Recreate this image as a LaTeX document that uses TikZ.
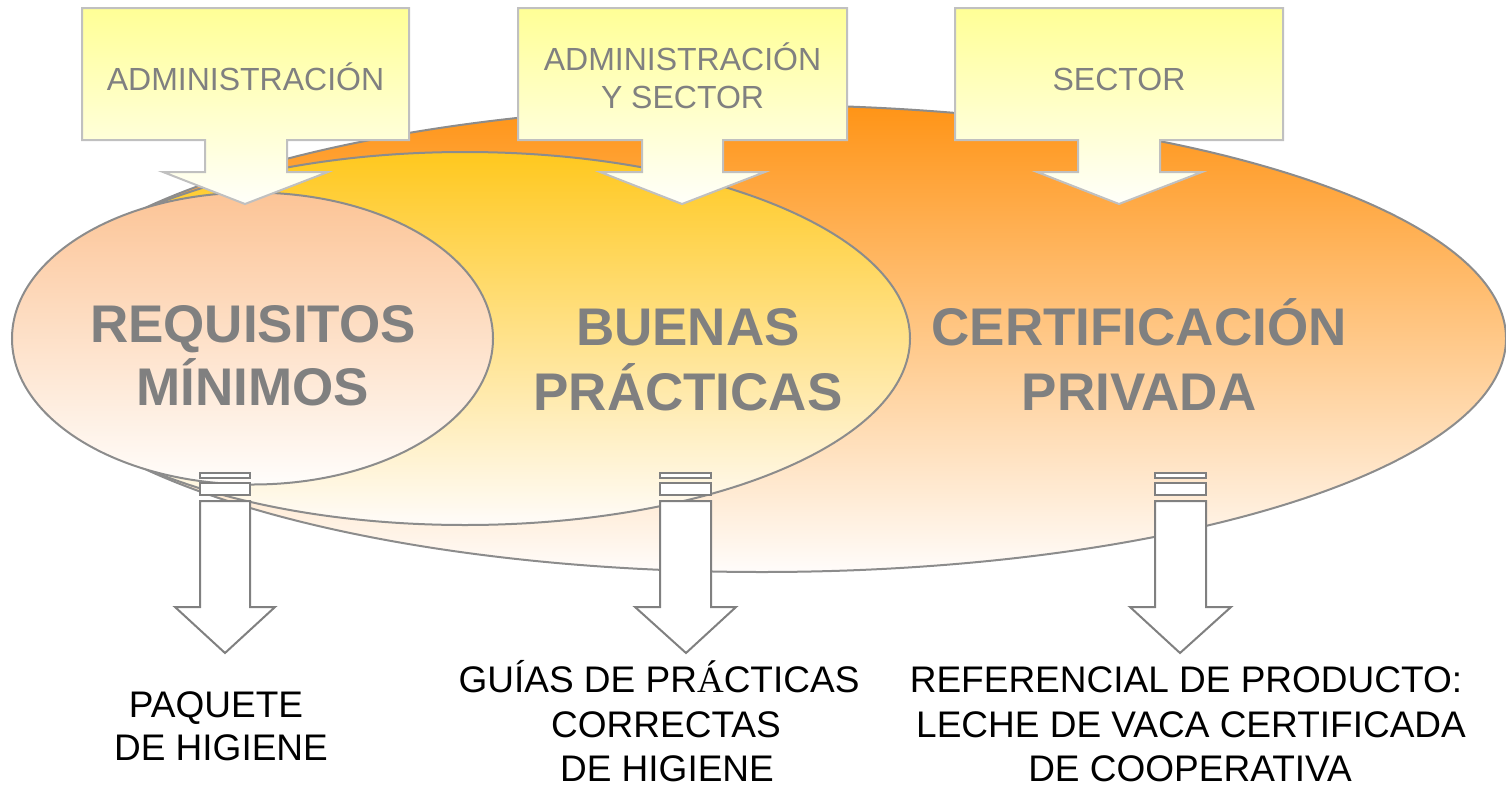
\documentclass[tikz,border=0pt]{standalone}
\usepackage{fontspec}
\setmainfont{Liberation Sans}
\newfontfamily\serifA{Liberation Serif}
\definecolor{ellline}{RGB}{140,140,140}
\definecolor{bigtop}{RGB}{255,148,22}
\definecolor{bigbot}{RGB}{255,252,250}
\definecolor{midtop}{RGB}{255,200,30}
\definecolor{midbot}{RGB}{255,252,249}
\definecolor{smltop}{RGB}{252,196,150}
\definecolor{smlbot}{RGB}{255,253,251}
\definecolor{caltop}{RGB}{255,255,150}
\definecolor{calbot}{RGB}{255,255,250}
\definecolor{calline}{RGB}{192,192,192}
\definecolor{txtgray}{RGB}{128,128,128}
\definecolor{arrline}{RGB}{128,128,128}
\tikzset{
  ellborder/.style={draw=ellline, line width=2pt},
  callout/.style={draw=calline, line width=2pt, line join=miter, top color=caltop, bottom color=calbot},
  downarrow/.style={draw=arrline, line width=2pt, fill=white, line join=miter},
  toptxt/.style={anchor=base, inner sep=0pt, text=txtgray, font=\fontsize{32}{38}\selectfont},
  bigtxt/.style={anchor=base, inner sep=0pt, text=txtgray, font=\fontsize{53}{63}\selectfont\bfseries},
  bottxt/.style={anchor=base, inner sep=0pt, text=black, font=\fontsize{37}{45}\selectfont}
}
\begin{document}
\begin{tikzpicture}[x=1pt,y=-1pt]
\useasboundingbox (0,0) rectangle (1506,787);
% ellipses
\draw[ellborder, top color=bigtop, bottom color=bigbot] (762,338.5) ellipse [x radius=744, y radius=233.5];
\draw[ellborder, top color=midtop, bottom color=midbot] (465,338.5) ellipse [x radius=445, y radius=186.5];
\draw[ellborder, top color=smltop, bottom color=smlbot] (252.5,338.5) ellipse [x radius=240.5, y radius=146];
% big texts
\node[bigtxt] (req1) at (253,342) {REQUISITOS};
\node[bigtxt] (req2) at (253,405) {MÍNIMOS};
\node[bigtxt] (bp1) at (688,345) {BUENAS};
\node[bigtxt] (bp2) at (688,410) {PRÁCTICAS};
\node[bigtxt] (cp1) at (1139,345) {CERTIFICACIÓN};
\node[bigtxt] (cp2) at (1139,410) {PRIVADA};
% top callouts
\path[callout] (82,8) -- (409,8) -- (409,140) -- (287,140) -- (287,172) -- (328,172) -- (245,204) -- (163,172) -- (205,172) -- (205,140) -- (82,140) -- cycle;
\path[callout] (518,8) -- (847,8) -- (847,140) -- (723,140) -- (723,172) -- (765,172) -- (682,204) -- (600,172) -- (642,172) -- (642,140) -- (518,140) -- cycle;
\path[callout] (955,8) -- (1283,8) -- (1283,140) -- (1160,140) -- (1160,172) -- (1202,172) -- (1119,204) -- (1037,172) -- (1078,172) -- (1078,140) -- (955,140) -- cycle;
\node[toptxt] (adm) at (245.5,90) {ADMINISTRACIÓN};
\node[toptxt] (ays1) at (682.5,70) {ADMINISTRACIÓN};
\node[toptxt] (ays2) at (682.5,108) {Y SECTOR};
\node[toptxt] (sec) at (1119,90) {SECTOR};
% bottom arrows
\foreach \xa/\xb/\ha/\hb/\tip in {200/250/175/275/225, 660/711/635/736/686, 1155/1206/1130/1231/1180}{
  \draw[downarrow] (\xa,473) rectangle (\xb,478);
  \draw[downarrow] (\xa,483) rectangle (\xb,495);
  \draw[downarrow] (\xa,501) -- (\xb,501) -- (\xb,607) -- (\hb,607) -- (\tip,653) -- (\ha,607) -- (\xa,607) -- cycle;
}
% bottom texts
\node[bottxt] (pq1) at (216,717) {PAQUETE};
\node[bottxt] (pq2) at (221,760) {DE HIGIENE};
\node[bottxt] (gu1) at (659,692) {GUÍAS DE PR{\serifA Á}CTICAS};
\node[bottxt] (gu2) at (666,737) {CORRECTAS};
\node[bottxt] (gu3) at (667,781) {DE HIGIENE};
\node[bottxt] (rf1) at (1186,692) {REFERENCIAL DE PRODUCTO:};
\node[bottxt] (rf2) at (1191,737) {LECHE DE VACA CERTIFICADA};
\node[bottxt] (rf3) at (1190,781) {DE COOPERATIVA};
\end{tikzpicture}
\end{document}
